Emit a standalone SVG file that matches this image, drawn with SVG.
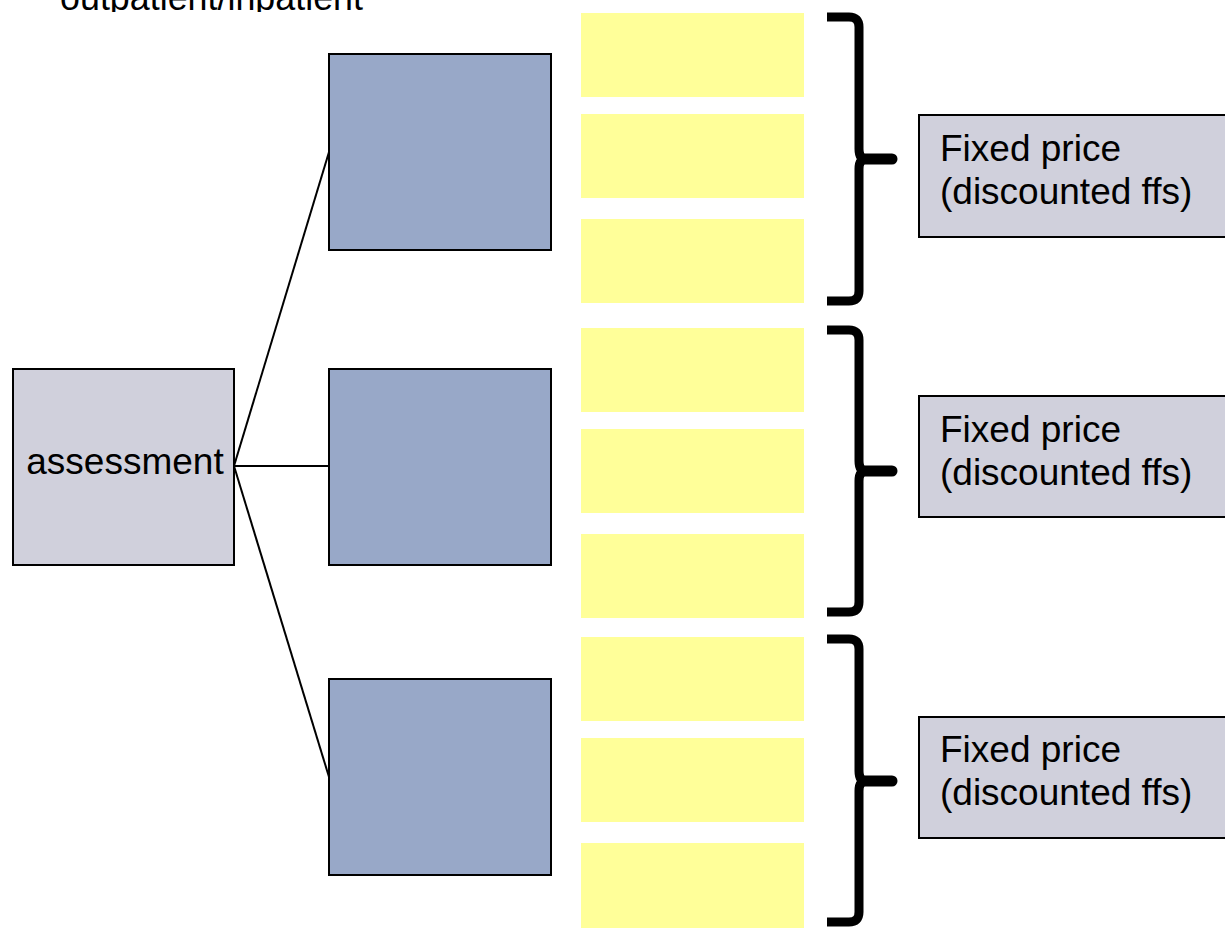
<svg xmlns="http://www.w3.org/2000/svg" width="1225" height="929" viewBox="0 0 1225 929">
<style>
.t{font-family:"Liberation Sans",Arial,sans-serif;font-size:37px;fill:#000}
.gray{fill:#D0D0DC;stroke:#000;stroke-width:2}
.blue{fill:#98A8C8;stroke:#000;stroke-width:2}
.yel{fill:#FFFF99}
.brace{fill:none;stroke:#000;stroke-width:9}
.tip{stroke:#000;stroke-width:11;stroke-linecap:round}
.conn{stroke:#000;stroke-width:2;fill:none}
</style>
<defs>
<clipPath id="topclip"><rect x="0" y="0" width="1225" height="12"/></clipPath>
</defs>
<rect width="1225" height="929" fill="#fff"/>
<g id="title" clip-path="url(#topclip)">
<text class="t" x="60" y="10" textLength="303" lengthAdjust="spacingAndGlyphs">outpatient/inpatient</text>
</g>
<g id="connectors">
<line class="conn" x1="234" y1="466" x2="329" y2="152"/>
<line class="conn" x1="234" y1="466" x2="329" y2="466"/>
<line class="conn" x1="234" y1="466" x2="329" y2="777"/>
</g>
<g id="assessment">
<rect class="gray" x="13" y="369" width="221" height="196"/>
<text class="t" x="125" y="474" text-anchor="middle">assessment</text>
</g>
<g id="blue1"><rect class="blue" x="329" y="54" width="222" height="196"/></g>
<g id="blue2"><rect class="blue" x="329" y="369" width="222" height="196"/></g>
<g id="blue3"><rect class="blue" x="329" y="679" width="222" height="196"/></g>
<g id="yellows">
<rect class="yel" x="581" y="13" width="223" height="84"/>
<rect class="yel" x="581" y="114" width="223" height="84"/>
<rect class="yel" x="581" y="219" width="223" height="84"/>
<rect class="yel" x="581" y="328" width="223" height="84"/>
<rect class="yel" x="581" y="429" width="223" height="84"/>
<rect class="yel" x="581" y="534" width="223" height="84"/>
<rect class="yel" x="581" y="637" width="223" height="84"/>
<rect class="yel" x="581" y="738" width="223" height="84"/>
<rect class="yel" x="581" y="843" width="223" height="85"/>
</g>
<g id="brace1">
<path class="brace" d="M827,17 H849 Q859,17 859,27 V149 Q859,159 866,159 Q859,159 859,169 V291 Q859,301 849,301 H827"/>
<line class="tip" x1="864" y1="159" x2="892" y2="159"/>
</g>
<g id="brace2">
<path class="brace" d="M827,330 H849 Q859,330 859,340 V461 Q859,471 866,471 Q859,471 859,481 V602 Q859,612 849,612 H827"/>
<line class="tip" x1="864" y1="471" x2="892" y2="471"/>
</g>
<g id="brace3">
<path class="brace" d="M827,639 H849 Q859,639 859,649 V771 Q859,781 866,781 Q859,781 859,791 V912 Q859,922 849,922 H827"/>
<line class="tip" x1="864" y1="781" x2="892" y2="781"/>
</g>
<g id="price1">
<rect class="gray" x="919" y="115" width="320" height="122"/>
<text class="t" x="940" y="161">Fixed price</text>
<text class="t" x="940" y="204">(discounted ffs)</text>
</g>
<g id="price2">
<rect class="gray" x="919" y="396" width="320" height="121"/>
<text class="t" x="940" y="442">Fixed price</text>
<text class="t" x="940" y="485">(discounted ffs)</text>
</g>
<g id="price3">
<rect class="gray" x="919" y="717" width="320" height="121"/>
<text class="t" x="940" y="762">Fixed price</text>
<text class="t" x="940" y="805">(discounted ffs)</text>
</g>
</svg>
